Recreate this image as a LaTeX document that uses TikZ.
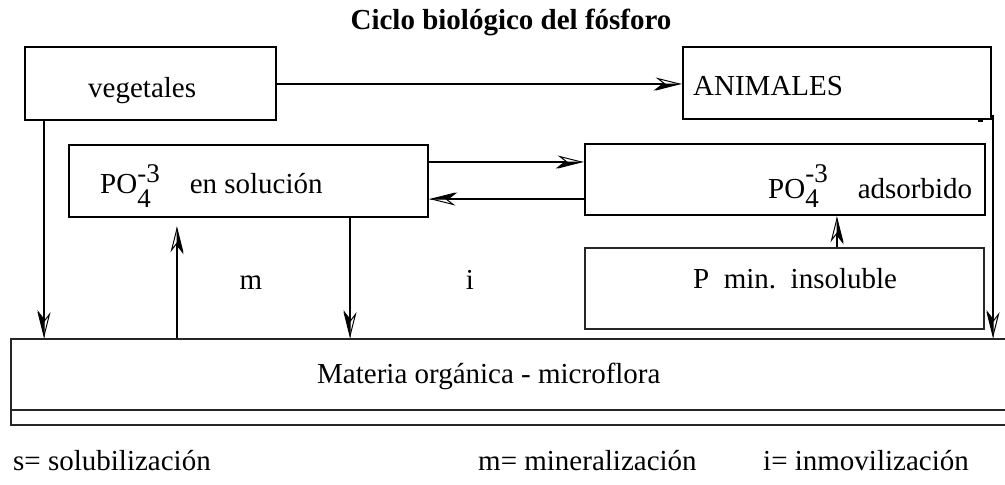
\documentclass[tikz,border=0pt]{standalone}
\usepackage{fontspec}
\setmainfont{Liberation Serif}
\usetikzlibrary{arrows.meta}
\newcommand\pofour[2]{PO\rlap{\raisebox{-#1}{\fontsize{27}{27}\selectfont 4}}\raisebox{#2}{\fontsize{27}{27}\selectfont -3}}
\tikzset{
  thickbox/.style={draw, line width=2.6pt, inner sep=0pt},
  thinbox/.style={draw, black!85, line width=1.6pt, inner sep=0pt},
  lbl/.style={anchor=base west, inner sep=0pt, font=\fontsize{29}{31}\selectfont},
  clbl/.style={anchor=base, inner sep=0pt, font=\fontsize{29}{31}\selectfont},
  conn/.style={line width=1.3pt,
    -{Stealth[length=26pt,width=13pt,fill=white,line width=1pt]},
    postaction={draw, line width=1.3pt,
      -{Stealth[harpoon,swap,length=26pt,width=13pt,line width=1pt]}}},
}
\begin{document}
\begin{tikzpicture}[x=1pt,y=-1pt]
\useasboundingbox (0,0) rectangle (1005,485);
% boxes
\node[thickbox, minimum width=251pt, minimum height=73pt] (veg) at (150.5,83.5) {};
\node[thickbox, minimum width=308pt, minimum height=72pt] (anim) at (837,83) {};
\node[thickbox, minimum width=359pt, minimum height=72pt] (sol) at (248.5,181) {};
\node[thickbox, minimum width=400pt, minimum height=71pt] (ads) at (785,179.5) {};
\node[thinbox, minimum width=399pt, minimum height=81pt] (pmin) at (784.5,288.5) {};
\node[thinbox, minimum width=999pt, minimum height=86pt] (mat) at (510.5,382) {};
\coordinate (midl) at (11,410);
\coordinate (midr) at (1010,410);
\draw[black!85, line width=1.6pt] (midl) -- (midr);
\fill (978,118) rectangle (983,122);
% texts
\node[anchor=base, inner sep=0pt, font=\fontsize{29}{31}\selectfont\bfseries] (title) at (511,29) {Ciclo biológico del fósforo};
\node[lbl] (tveg) at (88,97) {vegetales};
\node[lbl] (tanim) at (693,95) {ANIMALES};
\node[lbl] (tsol) at (100,193) {\pofour{14pt}{11pt}\hspace{30pt}en solución};
\node[lbl] (tads) at (768,198) {\pofour{9pt}{16pt}\hspace{30pt}adsorbido};
\node[lbl] (tpmin) at (693,288) {P~~min.~~insoluble};
\node[lbl] (tmat) at (317,383) {Materia orgánica - microflora};
\node[clbl] (tm) at (251,289) {m};
\node[clbl] (ti) at (470,289) {i};
\node[lbl] (ls) at (13,470) {s= solubilización};
\node[lbl] (lm) at (478,470) {m= mineralización};
\node[lbl] (li) at (763,470) {i= inmovilización};
% helper coordinates
\coordinate (yTop) at (0,162);
\coordinate (yBot) at (0,199);
\coordinate (yV) at (0,84);
\coordinate (xV) at (44,0);
\coordinate (xUp) at (177,0);
\coordinate (xDn) at (350,0);
\coordinate (xP) at (837,0);
\coordinate (r1) at (993,115);
% connectors
\draw[conn] (veg.east |- yV) -- (anim.west |- yV);
\draw[conn] (xV |- veg.south) -- (xV |- mat.north);
\draw[conn] (sol.east |- yTop) -- (ads.west |- yTop);
\draw[conn] (ads.west |- yBot) -- (sol.east |- yBot);
\draw[conn, shorten >=8pt] (xUp |- mat.north) -- (xUp |- sol.south);
\draw[conn] (xDn |- sol.south) -- (xDn |- mat.north);
\draw[conn] (xP |- pmin.north) -- (xP |- ads.south);
\draw[conn] (r1) -- (r1 |- mat.north);
\end{tikzpicture}
\end{document}
